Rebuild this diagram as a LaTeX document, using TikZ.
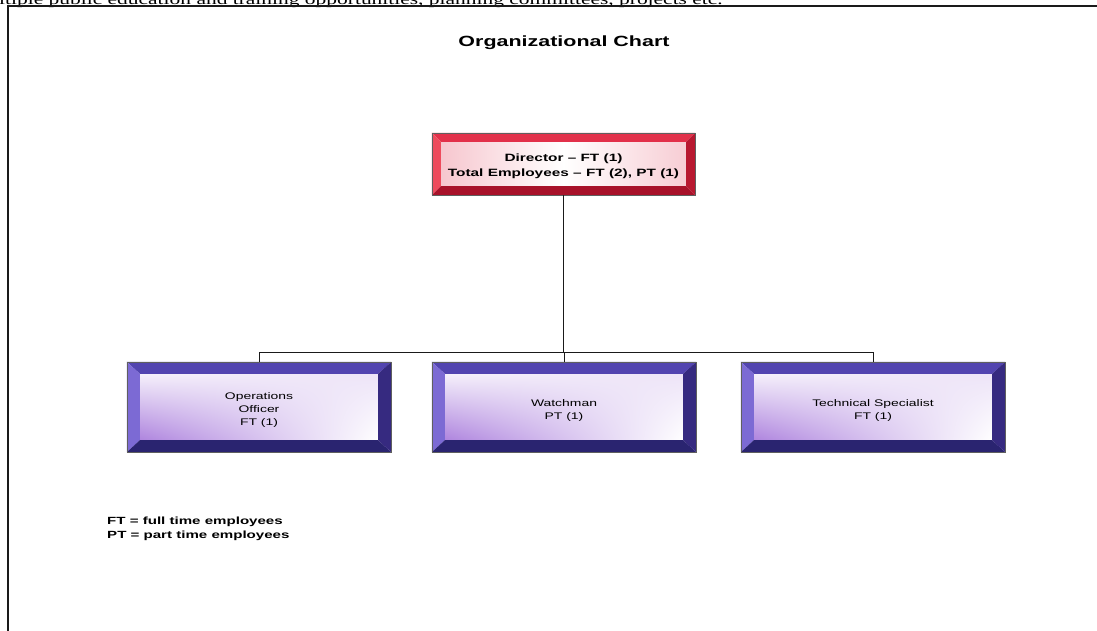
\documentclass[tikz,border=0pt]{standalone}
\usepackage{fontspec}
\setmainfont[FakeStretch=1.45]{Liberation Sans}
\newfontfamily\pagefont[FakeStretch=1.45]{Liberation Serif}
\usetikzlibrary{calc,backgrounds,shadings}

\definecolor{redtop}{HTML}{E2304A}
\definecolor{redleft}{HTML}{EE4A5C}
\definecolor{redbottom}{HTML}{A8122A}
\definecolor{redright}{HTML}{B81830}
\definecolor{redglow}{HTML}{F4B8C2}
\definecolor{purtop}{HTML}{5244B0}
\definecolor{purleft}{HTML}{7C6AD4}
\definecolor{purbottom}{HTML}{2A2470}
\definecolor{purright}{HTML}{362A80}
\definecolor{purglow}{HTML}{AE84DE}
\definecolor{inkline}{HTML}{1A1A1A}

% bevelled frame around a node: name, side width, top width, top, left, bottom, right colours
\newcommand\bevelframe[7]{%
  \fill[#4] (#1.north west) -- (#1.north east) -- ($(#1.north east)+(-#2,-#3)$) -- ($(#1.north west)+(#2,-#3)$) -- cycle;
  \fill[#5] (#1.north west) -- ($(#1.north west)+(#2,-#3)$) -- ($(#1.south west)+(#2,#3)$) -- (#1.south west) -- cycle;
  \fill[#6] (#1.south west) -- ($(#1.south west)+(#2,#3)$) -- ($(#1.south east)+(-#2,#3)$) -- (#1.south east) -- cycle;
  \fill[#7] (#1.south east) -- ($(#1.south east)+(-#2,#3)$) -- ($(#1.north east)+(-#2,-#3)$) -- (#1.north east) -- cycle;
  \draw[inkline!70, line width=0.6] (#1.north west) rectangle (#1.south east);
}

% purple staff box with its inner glow
\newcommand\staffbox[1]{%
  \shade[lower left=purglow, upper left=purglow!12!white, upper right=purglow!22!white, lower right=white]
    ($(#1.north west)+(13,-12)$) rectangle ($(#1.south east)+(-13,12)$);
  \bevelframe{#1}{13}{12}{purtop}{purleft}{purbottom}{purright}%
}

% invisible strut that lowers a node's text block
\newcommand\lowerby[1]{\rule{0pt}{#1}}

\tikzset{
  x=1pt, y=1pt,
  staff/.style={minimum width=264pt, minimum height=90pt, inner sep=0pt, align=center,
    font=\fontsize{9.6}{13}\selectfont},
  headbox/.style={minimum width=263pt, minimum height=62pt, inner sep=0pt, align=center,
    font=\bfseries\fontsize{10.6}{15}\selectfont},
  link/.style={draw=inkline, line width=0.8pt},
}

\begin{document}
\begin{tikzpicture}
  \useasboundingbox (0,0) rectangle (1097,-630);
  \begin{scope}
    \clip (0,0) rectangle (1097,-630);
    % running text of the page above the chart
    \node[anchor=base west, inner sep=0pt, font=\pagefont\fontsize{14.8}{18}\selectfont]
      (pagetext) at (-1,-4.8) {ltiple public education and training opportunities, planning committees, projects etc.};
    % page frame
    \draw[inkline, line width=1.4pt] (8,-640) -- (8,-6) -- (1110,-6);
  \end{scope}

  \node[font=\bfseries\fontsize{14.8}{17}\selectfont] (title) at (564,-43) {Organizational Chart};

  \node[headbox] (dir) at (563.5,-164) {\lowerby{11.6pt}Director -- FT (1)\\Total Employees -- FT (2), PT (1)};
  \node[staff] (ops) at (259,-407) {\lowerby{13pt}Operations\\Officer\\FT (1)};
  \node[staff] (watch) at (564,-407) {\lowerby{13pt}Watchman\\PT (1)};
  \node[staff] (tech) at (873,-407) {\lowerby{13pt}Technical Specialist\\FT (1)};

  \begin{scope}[on background layer]
    \shade[left color=redglow!80!white, right color=redglow!70!white, middle color=white]
      ($(dir.north west)+(9,-9)$) rectangle ($(dir.south east)+(-9,8)$);
    \bevelframe{dir}{9}{9}{redtop}{redleft}{redbottom}{redright}
    \staffbox{ops}
    \staffbox{watch}
    \staffbox{tech}
  \end{scope}

  % reporting lines
  \coordinate (bus) at (0,-352);
  \draw[link] (dir.south) -- (dir.south |- bus);
  \draw[link] (ops.north |- bus) -- (tech.north |- bus);
  \draw[link] (ops.north |- bus) -- (ops.north);
  \draw[link] (watch.north |- bus) -- (watch.north);
  \draw[link] (tech.north |- bus) -- (tech.north);

  \node[anchor=north west, align=left, inner sep=0pt, font=\bfseries\fontsize{10.4}{14}\selectfont]
    (legend) at (107,-517) {FT = full time employees\\PT = part time employees};
\end{tikzpicture}
\end{document}
